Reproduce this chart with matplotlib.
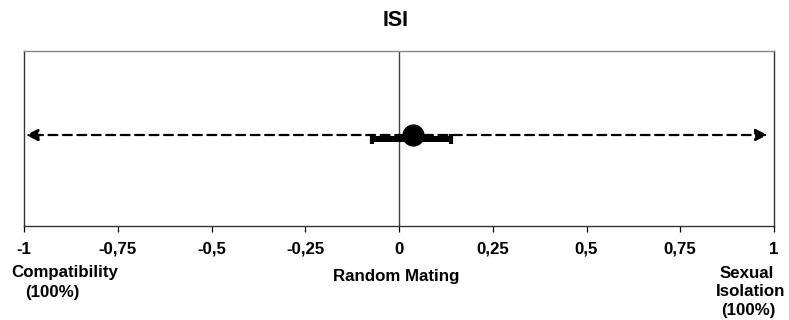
import matplotlib
matplotlib.use("Agg")
import matplotlib.pyplot as plt

# Data
tick_values = [-1, -0.75, -0.5, -0.25, 0, 0.25, 0.5, 0.75, 1]
tick_labels = ["-1", "-0,75", "-0,5", "-0,25", "0", "0,25", "0,5", "0,75", "1"]
isi_value = 0.037
isi_low = -0.072
isi_high = 0.139
point_y = 1.04
bar_y = 0.99
arrow_start = -0.995
arrow_end = 0.983

plt.rcParams['font.family'] = ['Liberation Sans', 'DejaVu Sans']

W, H = 789, 320
fig = plt.figure(figsize=(W / 100, H / 100), dpi=100)
ax = fig.add_axes([24 / W, 1 - 226 / H, (774 - 24) / W, (226 - 51) / H])
ax.set_xlim(-1, 1)
ax.set_ylim(0, 2)

# dashed double arrow
ax.annotate("", xy=(arrow_start, point_y), xytext=(arrow_end, point_y),
            arrowprops=dict(arrowstyle="<|-|>", color="black", lw=1.6,
                            linestyle=(0, (4, 2.5)), mutation_scale=18,
                            shrinkA=0, shrinkB=0))

# error bar
ax.errorbar([isi_value], [bar_y], xerr=[[isi_value - isi_low], [isi_high - isi_value]],
            fmt="none", ecolor="black", elinewidth=4.3, capsize=3.3, capthick=3.0, zorder=4)
ax.plot([isi_value], [point_y], "o", color="black", markersize=15, zorder=5)

# vertical line at 0
ax.axvline(0, color="#404040", lw=1.0, zorder=1)

ax.set_xticks(tick_values)
ax.set_xticklabels(tick_labels, fontsize=12.2, fontweight="bold")
ax.set_yticks([])
ax.tick_params(axis="x", direction="out", length=4.3, width=0.9, pad=7, colors="black")
for name, sp in ax.spines.items():
    sp.set_linewidth(1.0)
    sp.set_color("#333333")
ax.spines["top"].set_color("#8a8a8a")

fig.text(396 / W, 1 - 21 / H, "ISI", ha="center", va="center", fontsize=15.5, fontweight="bold")

def ftxt(x, y, s):
    fig.text(x / W, 1 - y / H, s, ha="center", va="center", fontsize=12.2, fontweight="bold")

ftxt(64.5, 273, "Compatibility")
ftxt(52.5, 292, "(100%)")
ftxt(396, 276, "Random Mating")
ftxt(747, 273, "Sexual")
ftxt(751, 292, "Isolation")
ftxt(748, 310, "(100%)")

fig.savefig("out.png", dpi=100)
